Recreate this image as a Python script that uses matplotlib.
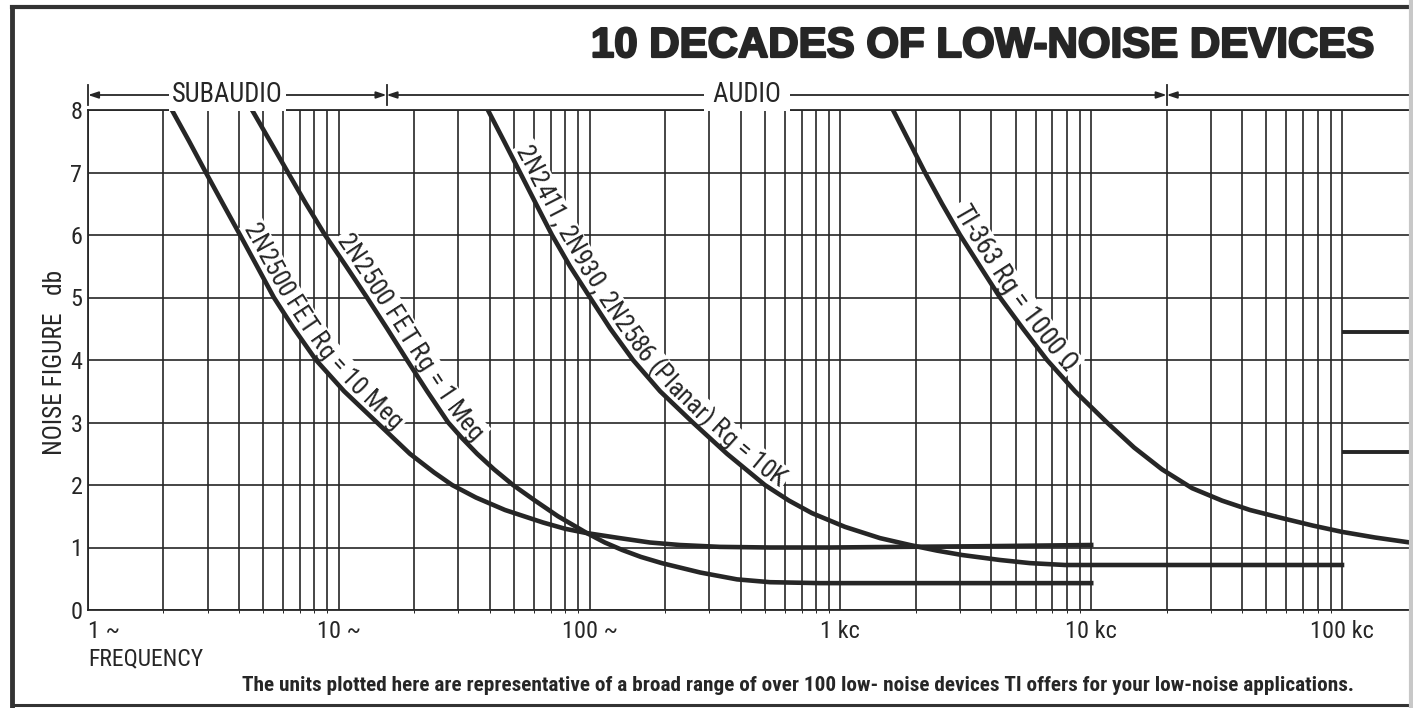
import os
import numpy as np
import matplotlib.pyplot as plt
import matplotlib.font_manager as fm
import matplotlib.patheffects as pe
from matplotlib.lines import Line2D
from matplotlib.ticker import FixedLocator, NullFormatter
from matplotlib.transforms import IdentityTransform

# curves: frequency in c/s, noise figure in db
fet10_f = [2.16, 2.53, 2.95, 3.45, 4.04, 4.72, 5.51, 6.63, 8.11, 10.5, 14.2, 19.2, 24.0,
           28.3, 35.2, 46.0, 65.2, 79.8, 97.6, 132, 174, 229, 331, 524, 909, 1729, 3602,
           10000]
fet10_nf = [8.0, 7.5, 7.0, 6.5, 6.0, 5.5, 5.0, 4.5, 4.0, 3.5, 3.0, 2.5, 2.2,
            2.0, 1.8, 1.6, 1.4, 1.3, 1.23, 1.15, 1.08, 1.04, 1.01, 1.0, 1.0, 1.01, 1.02,
            1.04]

fet1_f = [4.51, 5.32, 6.27, 7.40, 8.81, 10.7, 12.95, 15.6, 18.7, 22.5, 27.3, 31.0, 35.6,
          41.6, 49.5, 60.6, 74.8, 97.6, 115, 135, 160, 194, 276, 387, 524, 829, 10000]
fet1_nf = [8.0, 7.5, 7.0, 6.5, 6.0, 5.5, 5.0, 4.5, 4.0, 3.5, 3.0, 2.75, 2.5,
           2.25, 2.0, 1.75, 1.5, 1.23, 1.08, 0.96, 0.85, 0.75, 0.6, 0.49, 0.445, 0.43, 0.43]

planar_f = [39.3, 45.6, 52.8, 61.1, 70.8, 83.5, 100.4, 121, 149, 191, 258, 353, 500,
            624, 770, 1043, 1439, 1894, 2428, 3053, 4329, 5702, 7862, 100000]
planar_nf = [8.0, 7.5, 7.0, 6.5, 6.0, 5.5, 5.0, 4.5, 4.0, 3.5, 3.0, 2.5, 2.0,
             1.75, 1.55, 1.33, 1.15, 1.04, 0.95, 0.88, 0.8, 0.75, 0.72, 0.72]

ti363_f = [1621, 1877, 2174, 2542, 3000, 3602, 4329, 5348, 6665, 8619, 11560, 14820,
           19160, 25230, 33230, 42970, 57660, 76640, 100000, 135400, 186700]
ti363_nf = [8.0, 7.5, 7.0, 6.5, 6.0, 5.5, 5.0, 4.5, 4.0, 3.5, 3.0, 2.6,
            2.25, 1.95, 1.75, 1.6, 1.47, 1.35, 1.25, 1.16, 1.08]

curve_names = [
    '2N2500 FET Rg = 10 Meg',
    '2N2500 FET Rg = 1 Meg',
    '2N2411, 2N930, 2N2586 (Planar) Rg = 10K',
    'TI-363 Rg = 1000 \u03a9',
]
label_start_nf = [6.05, 5.85, 7.3, 6.35]
label_length_px = [255, 245, 435, 200]

edge_marks_nf = [4.45, 2.53]

tick_freqs = [1, 10, 100, 1e3, 1e4, 1e5]
tick_labels = ['1 ~', '10 ~', '100 ~', '1 kc', '10 kc', '100 kc']
nf_ticks = [0, 1, 2, 3, 4, 5, 6, 7, 8]

band_edges = [1, 15.5, 20000]
band_names = ['SUBAUDIO', ' AUDIO ']
band_label_f = [3.6, 424]

f_max = 186700
ink = '#262626'


def narrow_font(bold=False):
    # pick a condensed sans face if one is installed
    prefs = ['Liberation Sans Narrow', 'Roboto Condensed', 'DejaVu Sans Condensed',
             'Noto Sans Condensed', 'Open Sans Condensed', 'Arial Narrow']
    keys = [p.replace(' ', '').lower() for p in prefs]
    want = 700 if bold else 400
    best, best_score = None, None
    for f in fm.fontManager.ttflist:
        if f.style != 'normal':
            continue
        tag = (f.name + ' ' + os.path.basename(f.fname)).replace(' ', '').replace('-', '').lower()
        rank = next((i for i, k in enumerate(keys) if k in tag), None)
        if rank is None:
            continue
        w = f.weight if isinstance(f.weight, int) else fm.weight_dict.get(f.weight, 400)
        score = (abs(w - want), rank)
        if best_score is None or score < best_score:
            best, best_score = f.fname, score
    if best is None:
        return fm.FontProperties(family='DejaVu Sans', stretch='condensed',
                                 weight='bold' if bold else 'normal')
    return fm.FontProperties(fname=best)


narrow = narrow_font()
narrow_bold = narrow_font(bold=True)


def fit(txt, renderer, target):
    w = txt.get_window_extent(renderer).width
    txt.set_fontsize(txt.get_fontsize() * target / w)


def curve_label(ax, renderer, fx, nf, text, start_nf, length, offset):
    pts = ax.transData.transform(np.column_stack([fx, nf]))
    seg = np.hypot(*np.diff(pts, axis=0).T)
    s = np.concatenate([[0], np.cumsum(seg)])

    def at(arc):
        return np.array([np.interp(arc, s, pts[:, 0]), np.interp(arc, s, pts[:, 1])])

    def frame(arc):
        p1, p2 = at(arc - 14), at(arc + 14)
        t = (p2 - p1) / np.hypot(*(p2 - p1))
        return t, np.array([-t[1], t[0]])

    def adv(ch, size):
        a = ax.text(0, 0, 'x' + ch + 'x', fontproperties=narrow, fontsize=size)
        b = ax.text(0, 0, 'xx', fontproperties=narrow, fontsize=size)
        w = a.get_window_extent(renderer).width - b.get_window_extent(renderer).width
        a.remove()
        b.remove()
        return w

    widths = [adv(ch, 10) for ch in text]
    size = 10 * length / sum(widths)
    widths = [w * length / sum(widths) for w in widths]
    cap = size * 100 / 72 * 0.72

    y0 = ax.transData.transform((fx[0], start_nf))[1]
    pos = np.interp(-y0, -pts[:, 1], s)

    # white band under the lettering breaks the grid like the print does
    band = []
    for a in np.linspace(pos - 3, pos + length + 3, 60):
        t, n = frame(a)
        band.append(at(a) + (offset + cap / 2) * n)
    band = np.array(band)
    ax.plot(band[:, 0], band[:, 1], transform=IdentityTransform(), color='white',
            lw=(cap + 8) * 0.72, solid_capstyle='butt', zorder=2)

    for ch, w in zip(text, widths):
        mid = pos + w / 2
        t, n = frame(mid)
        c = at(mid) + offset * n
        ang = np.degrees(np.arctan2(t[1], t[0]))
        if ch != ' ':
            ax.text(c[0], c[1], ch, transform=IdentityTransform(), rotation=ang,
                    rotation_mode='anchor', ha='center', va='baseline',
                    fontproperties=narrow, fontsize=size, color=ink, zorder=3)
        pos += w


fig = plt.figure(figsize=(14.13, 7.08), dpi=100)
fig.patch.set_facecolor('white')
ax = fig.add_axes([88 / 1413, 98 / 708, 1322 / 1413, 500 / 708])
renderer = fig.canvas.get_renderer()

ax.set_xscale('log')
ax.set_xlim(1, f_max)
ax.set_ylim(0, 8)

# size the tick font so that "100 ~" is as wide as in the print
probe = ax.text(1, 1, '100 ~', fontproperties=narrow, fontsize=17)
fit(probe, renderer, 56)
tick_size = probe.get_fontsize()
probe.remove()

ax.xaxis.set_major_locator(FixedLocator(tick_freqs))
ax.xaxis.set_minor_locator(FixedLocator(
    [m * 10 ** d for d in range(5) for m in range(2, 10)]))
ax.xaxis.set_minor_formatter(NullFormatter())
ax.set_xticklabels(tick_labels, fontproperties=narrow, fontsize=tick_size, color=ink)
ax.set_yticks(nf_ticks)
ax.set_yticklabels([str(v) for v in nf_ticks], fontproperties=narrow,
                   fontsize=tick_size, color=ink)
ax.tick_params(length=0)
ax.tick_params(axis='x', pad=7)
ax.tick_params(axis='y', pad=4)
ax.get_xticklabels()[0].set_horizontalalignment('left')

ax.grid(which='both', axis='x', color=ink, lw=1.2)
ax.grid(which='major', axis='y', color=ink, lw=1.2)
ax.set_axisbelow(True)
for side in ['left', 'bottom', 'top']:
    ax.spines[side].set_color(ink)
    ax.spines[side].set_linewidth(1.3)
ax.spines['right'].set_visible(False)

curves = [(fet10_f, fet10_nf), (fet1_f, fet1_nf), (planar_f, planar_nf), (ti363_f, ti363_nf)]
for fx, nf in curves:
    ax.plot(fx, nf, color=ink, lw=3.3, solid_joinstyle='round', zorder=4)

ax.hlines(edge_marks_nf, 1e5, f_max, color=ink, lw=2.8, zorder=4)

for (fx, nf), name, s0, ln in zip(curves, curve_names, label_start_nf, label_length_px):
    curve_label(ax, renderer, fx, nf, name, s0, ln, 5.0)

# frequency band bracket above the grid
yb = 8.24
arrow_kw = dict(color=ink, lw=1.3, shrinkA=0, shrinkB=0)
for a, b in zip(band_edges[:-1], band_edges[1:]):
    ax.annotate('', xy=(a, yb), xytext=(b, yb), annotation_clip=False,
                arrowprops=dict(arrowstyle='<|-|>,head_length=0.6,head_width=0.2', **arrow_kw))
ax.annotate('', xy=(band_edges[-1], yb), xytext=(f_max, yb), annotation_clip=False,
            arrowprops=dict(arrowstyle='-|>,head_length=0.6,head_width=0.2', **arrow_kw))
for e in band_edges:
    ax.plot([e, e], [8.08, 8.4], color=ink, lw=1.3, clip_on=False)
band_texts = []
for name, fx in zip(band_names, band_label_f):
    band_texts.append(ax.text(fx, yb, name, ha='center', va='center', fontproperties=narrow,
                              fontsize=18, color=ink, zorder=5, clip_on=False,
                              bbox=dict(fc='white', ec='none', pad=2)))
fit(band_texts[0], renderer, 111)
band_texts[1].set_fontsize(band_texts[0].get_fontsize())

title = fig.text(1373 / 1413, 1 - 57 / 708, '10 DECADES OF LOW-NOISE DEVICES', ha='right',
                 va='baseline', fontsize=30, fontweight='bold', family='Liberation Sans',
                 color=ink)
fit(title, renderer, 782)
title.set_path_effects([pe.withStroke(linewidth=1.6, foreground=ink)])

ylab = fig.text(55 / 1413, 1 - 362 / 708, 'NOISE FIGURE   db', ha='center', va='center',
                fontproperties=narrow, fontsize=18, color=ink)
fit(ylab, renderer, 185)
ylab.set_rotation(90)

xlab = fig.text(88 / 1413, 1 - 665 / 708, 'FREQUENCY', ha='left', va='baseline',
                fontproperties=narrow, fontsize=17, color=ink)
fit(xlab, renderer, 115)

foot = fig.text(798 / 1413, 1 - 691 / 708,
                'The units plotted here are representative of a broad range of over 100 '
                'low- noise devices TI offers for your low-noise applications.',
                ha='center', va='baseline', fontproperties=narrow_bold, fontsize=14,
                color=ink)
fit(foot, renderer, 1117)

# printed frame round the panel
fig.add_artist(Line2D([12 / 1413, 12 / 1413], [0.003, 1 - 7 / 708], color='#333333', lw=3.5))
fig.add_artist(Line2D([12 / 1413, 1], [1 - 7 / 708, 1 - 7 / 708], color='#333333', lw=3.0))
fig.add_artist(Line2D([12 / 1413, 1], [3 / 708, 3 / 708], color='#333333', lw=2.2))
fig.add_artist(Line2D([1411 / 1413, 1411 / 1413], [0, 1], color='#c8c8c8', lw=3))

fig.savefig('out.png', dpi=100, facecolor='white')
